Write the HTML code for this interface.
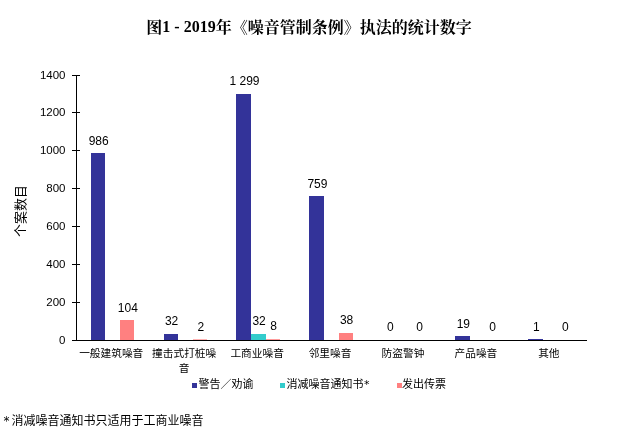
<!DOCTYPE html>
<html lang="zh-CN"><head><meta charset="utf-8"><title>图1</title>
<style>
html,body{margin:0;padding:0;background:#fff}
body{width:617px;height:434px;position:relative;overflow:hidden;font-family:"Liberation Sans","Noto Sans CJK SC",sans-serif;color:#000}
.a{position:absolute}
.t{position:absolute;white-space:nowrap;line-height:1}
.title{left:0.5px;width:617px;top:18px;text-align:center;font:bold 16px/20px "Liberation Serif","Noto Serif CJK SC",serif;letter-spacing:0}
.yl{font-size:11.5px;text-align:right;width:40px;left:25.5px;height:12px;line-height:12px}
.dl{font-size:12px;text-align:center;width:60px;height:12px;line-height:12px}
.cl{font-size:10.7px;line-height:15px;text-align:center;width:90px;white-space:normal}
.lg{font-size:11px;line-height:12px;height:12px}
.ln{background:#000}
.st{font-family:"DejaVu Sans",sans-serif}
</style></head><body>
<div class="t title">图<span style="position:relative;top:-1px">1 - 2019</span>年《噪音管制条例》执法的统计数字</div>

<div class="a ln" style="left:76px;top:75px;width:1px;height:266px"></div>
<div class="a ln" style="left:76px;top:340px;width:511px;height:1px"></div>
<div class="a ln" style="left:72px;top:340px;width:8px;height:1px"></div>
<div class="t yl" style="top:334px">0</div>
<div class="a ln" style="left:72px;top:302px;width:8px;height:1px"></div>
<div class="t yl" style="top:296px">200</div>
<div class="a ln" style="left:72px;top:264px;width:8px;height:1px"></div>
<div class="t yl" style="top:258px">400</div>
<div class="a ln" style="left:72px;top:226px;width:8px;height:1px"></div>
<div class="t yl" style="top:220px">600</div>
<div class="a ln" style="left:72px;top:188px;width:8px;height:1px"></div>
<div class="t yl" style="top:182px">800</div>
<div class="a ln" style="left:72px;top:150px;width:8px;height:1px"></div>
<div class="t yl" style="top:144px">1000</div>
<div class="a ln" style="left:72px;top:112px;width:8px;height:1px"></div>
<div class="t yl" style="top:106px">1200</div>
<div class="a ln" style="left:72px;top:75px;width:8px;height:1px"></div>
<div class="t yl" style="top:69px">1400</div>
<div class="a" style="left:90.59px;top:153.36px;width:14.59px;height:186.64px;background:#333399"></div>
<div class="t dl" style="left:68.68px;top:135px">986</div>
<div class="a" style="left:119.76px;top:320.31px;width:14.59px;height:19.69px;background:#ff8080"></div>
<div class="t dl" style="left:97.85px;top:302px">104</div>
<div class="t cl" style="left:66.26px;top:346px">一般建筑噪音</div>
<div class="a" style="left:163.51px;top:333.94px;width:14.59px;height:6.06px;background:#333399"></div>
<div class="t dl" style="left:141.61px;top:315px">32</div>
<div class="a" style="left:192.69px;top:339.00px;width:14.59px;height:1.00px;background:#ffb4b4"></div>
<div class="t dl" style="left:170.78px;top:321px">2</div>
<div class="t cl" style="left:139.19px;top:346px">撞击式打桩噪<br>音</div>
<div class="a" style="left:236.44px;top:94.12px;width:14.59px;height:245.88px;background:#333399"></div>
<div class="t dl" style="left:214.54px;top:75px">1 299</div>
<div class="a" style="left:251.03px;top:333.94px;width:14.59px;height:6.06px;background:#33cccc"></div>
<div class="t dl" style="left:229.12px;top:315px">32</div>
<div class="a" style="left:265.61px;top:339.00px;width:14.59px;height:1.00px;background:#ff9c9c"></div>
<div class="t dl" style="left:243.71px;top:320px">8</div>
<div class="t cl" style="left:212.12px;top:346px">工商业噪音</div>
<div class="a" style="left:309.37px;top:196.33px;width:14.59px;height:143.67px;background:#333399"></div>
<div class="t dl" style="left:287.46px;top:178px">759</div>
<div class="a" style="left:338.54px;top:332.81px;width:14.59px;height:7.19px;background:#ff8080"></div>
<div class="t dl" style="left:316.64px;top:314px">38</div>
<div class="t cl" style="left:285.05px;top:346px">邻里噪音</div>
<div class="t dl" style="left:360.39px;top:321px">0</div>
<div class="t dl" style="left:389.56px;top:321px">0</div>
<div class="t cl" style="left:357.98px;top:346px">防盗警钟</div>
<div class="a" style="left:455.23px;top:336.40px;width:14.59px;height:3.60px;background:#333399"></div>
<div class="t dl" style="left:433.32px;top:318px">19</div>
<div class="t dl" style="left:462.49px;top:321px">0</div>
<div class="t cl" style="left:430.91px;top:346px">产品噪音</div>
<div class="a" style="left:528.16px;top:339.00px;width:14.59px;height:1.00px;background:#333399"></div>
<div class="t dl" style="left:506.25px;top:321px">1</div>
<div class="t dl" style="left:535.42px;top:321px">0</div>
<div class="t cl" style="left:503.84px;top:346px">其他</div>
<div class="t" style="left:-9.5px;top:205px;width:60px;height:12px;line-height:12px;font-size:13px;text-align:center;transform:rotate(-90deg)">个案数目</div>
<div class="a" style="left:192px;top:383px;width:5px;height:5px;background:#333399"></div>
<div class="t lg" style="left:198.5px;top:377.5px">警告／劝谕</div>
<div class="a" style="left:280px;top:383px;width:5px;height:5px;background:#33cccc"></div>
<div class="t lg" style="left:286.5px;top:377.5px">消减噪音通知书<span class="st" style="margin-left:0.5px">*</span></div>
<div class="a" style="left:397px;top:383px;width:5px;height:5px;background:#ff8080"></div>
<div class="t lg" style="left:402px;top:377.5px">发出传票</div>
<div class="t" style="left:3.5px;top:415.2px;font-size:12px;line-height:13px"><span class="st" style="margin-right:2px">*</span>消减噪音通知书只适用于工商业噪音</div>
</body></html>
